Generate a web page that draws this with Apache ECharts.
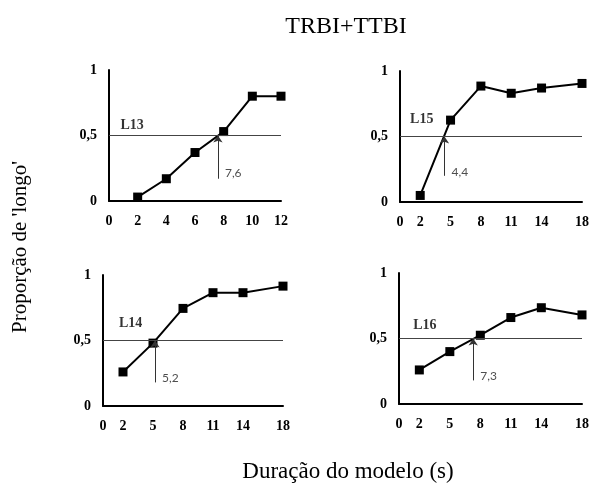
<!DOCTYPE html>
<html>
<head>
<meta charset="utf-8">
<script src="https://cdn.jsdelivr.net/npm/echarts@6/dist/echarts.min.js"></script>
<style>
  html, body { margin: 0; padding: 0; background: #fff; }
  #chart { width: 592px; height: 487px; }
</style>
</head>
<body>
<div id="chart"></div>
<script>
// Model durations (s)
const durationsL13 = [2, 4, 6, 8, 10, 12];
const durationsLong = [2, 5, 8, 11, 14, 18];

// Proportion of 'longo' responses per listener
const propL13 = [0.03, 0.17, 0.37, 0.53, 0.80, 0.80];
const propL15 = [0.05, 0.625, 0.885, 0.83, 0.87, 0.905];
const propL14 = [0.26, 0.48, 0.745, 0.865, 0.865, 0.915];
const propL16 = [0.26, 0.40, 0.525, 0.66, 0.735, 0.68];

// Bisection points (duration at proportion 0,5)
const bisectL13 = 7.6;
const bisectL15 = 4.4;
const bisectL14 = 5.2;
const bisectL16 = 7.3;

// Tick labels
const xTicksL13 = [0, 2, 4, 6, 8, 10, 12];
const xTicksLong = [0, 2, 5, 8, 11, 14, 18];
const yTicks = [0, 0.5, 1];

const comma = v => String(v).replace('.', ',');

const panels = [
  { name: 'L13', x: durationsL13, y: propL13, bisect: bisectL13, xTicks: xTicksL13, xMax: 12, xInterval: 2,
    grid: { left: 109, top: 70, width: 172, height: 131 }, nameAt: [0.8, 0.58], arrowFrom: 0.17, noteAt: 0.21 },
  { name: 'L15', x: durationsLong, y: propL15, bisect: bisectL15, xTicks: xTicksLong, xMax: 18, xInterval: 1,
    grid: { left: 400, top: 71, width: 187, height: 131 }, nameAt: [1.0, 0.63], arrowFrom: 0.2, noteAt: 0.23 },
  { name: 'L14', x: durationsLong, y: propL14, bisect: bisectL14, xTicks: xTicksLong, xMax: 18, xInterval: 1,
    grid: { left: 103, top: 275, width: 180, height: 131 }, nameAt: [1.6, 0.63], arrowFrom: 0.18, noteAt: 0.21 },
  { name: 'L16', x: durationsLong, y: propL16, bisect: bisectL16, xTicks: xTicksLong, xMax: 18, xInterval: 1,
    grid: { left: 399, top: 273, width: 183, height: 131 }, nameAt: [1.4, 0.6], arrowFrom: 0.18, noteAt: 0.21 }
];

const serif = 'Liberation Serif';
const tickFont = { fontFamily: serif, fontWeight: 'bold', fontSize: 14, color: '#000' };

const grids = [], xAxes = [], yAxes = [], series = [];

panels.forEach((p, i) => {
  grids.push(Object.assign({ containLabel: false }, p.grid));
  xAxes.push({
    type: 'value', gridIndex: i, min: 0, max: p.xMax, interval: p.xInterval,
    axisLine: { show: true, onZero: false, lineStyle: { color: '#000', width: 2 } },
    axisTick: { show: false }, splitLine: { show: false },
    axisLabel: Object.assign({ margin: 13, hideOverlap: false, showMinLabel: true, showMaxLabel: true,
      formatter: v => (p.xTicks.indexOf(v) >= 0 ? String(v) : '') }, tickFont)
  });
  yAxes.push({
    type: 'value', gridIndex: i, min: 0, max: 1, interval: 0.5,
    axisLine: { show: true, onZero: false, lineStyle: { color: '#000', width: 2 } },
    axisTick: { show: false }, splitLine: { show: false },
    axisLabel: Object.assign({ margin: 12, formatter: v => (yTicks.indexOf(v) >= 0 ? comma(v) : '') }, tickFont)
  });

  // annotation layer: panel name, bisection arrow and its value
  series.push({
    type: 'scatter', xAxisIndex: i, yAxisIndex: i, z: 2, silent: true, animation: false,
    symbolSize: 0,
    data: [
      { value: [p.nameAt[0], p.nameAt[1]],
        label: { show: true, position: 'right', distance: 0, formatter: p.name,
                 fontFamily: serif, fontWeight: 'bold', fontSize: 14, color: '#000' } },
      { value: [p.bisect, p.noteAt],
        label: { show: true, position: 'right', distance: 7, formatter: comma(p.bisect),
                 fontFamily: 'Lato', fontSize: 12, color: '#222' } }
    ],
    markLine: {
      silent: true, animation: false,
      symbol: ['none', 'arrow'], symbolSize: 7,
      label: { show: false },
      lineStyle: { color: '#333', width: 1, type: 'solid' },
      data: [[{ coord: [p.bisect, p.arrowFrom] }, { coord: [p.bisect, 0.5] }]]
    }
  });

  // response curve with the 0,5 reference line
  series.push({
    type: 'line', name: p.name, xAxisIndex: i, yAxisIndex: i, z: 3, animation: false,
    data: p.x.map((d, k) => [d, p.y[k]]),
    symbol: 'rect', symbolSize: 9,
    lineStyle: { color: '#000', width: 2 },
    itemStyle: { color: '#000' },
    markLine: {
      silent: true, animation: false, symbol: 'none',
      label: { show: false },
      lineStyle: { color: '#444', width: 1, type: 'solid' },
      data: [{ yAxis: 0.5 }]
    }
  });
});

const chart = echarts.init(document.getElementById('chart'), null, { renderer: 'canvas' });
chart.setOption({
  backgroundColor: '#fff',
  animation: false,
  title: [{
    text: 'TRBI+TTBI', left: 341, top: 10, textAlign: 'center',
    textStyle: { fontFamily: serif, fontWeight: 'normal', fontSize: 24, color: '#000' }
  }, {
    text: 'Duração do modelo (s)', left: 343, top: 455, textAlign: 'center',
    textStyle: { fontFamily: serif, fontWeight: 'normal', fontSize: 23, color: '#000' }
  }],
  graphic: [{
    type: 'text', x: 10, y: 247, rotation: Math.PI / 2,
    style: { text: "Proporção de 'longo'", font: '21px "Liberation Serif"', fill: '#000',
             align: 'center', verticalAlign: 'top' }
  }],
  grid: grids,
  xAxis: xAxes,
  yAxis: yAxes,
  series: series
});
</script>
</body>
</html>
